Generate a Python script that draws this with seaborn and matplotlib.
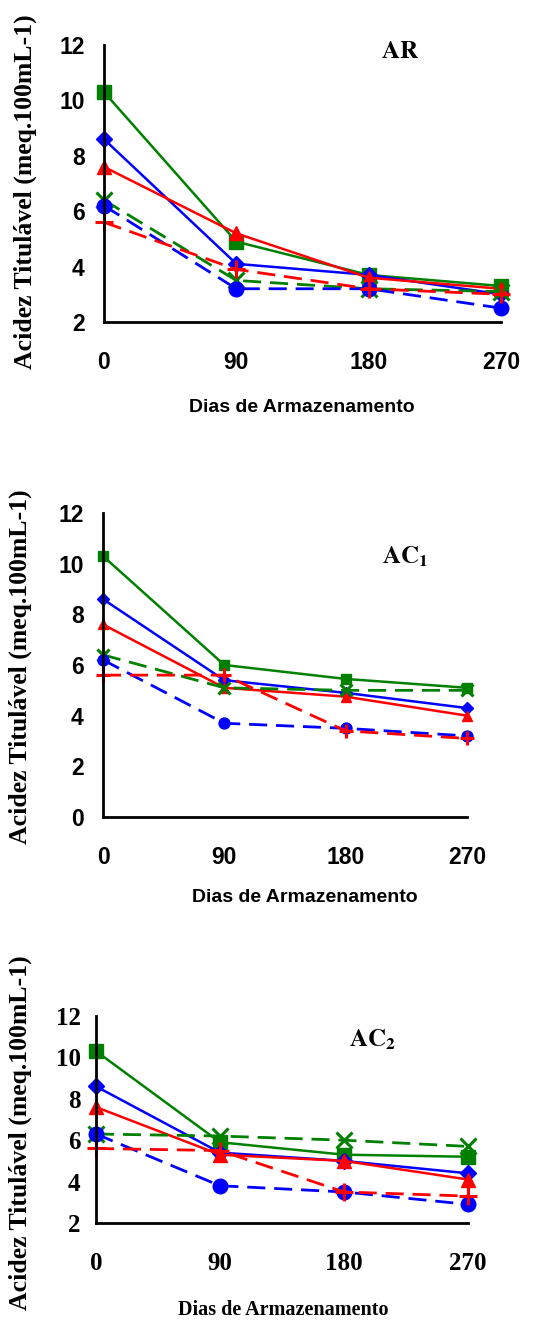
import matplotlib
matplotlib.use("Agg")
import matplotlib.pyplot as plt
import seaborn as sns
import pandas as pd

dias = [0, 90, 180, 270]

# AR
ar_quadrado = [10.3, 4.9, 3.7, 3.3]
ar_losango = [8.6, 4.1, 3.7, 3.0]
ar_triangulo = [7.6, 5.2, 3.6, 3.2]
ar_xis = [6.4, 3.5, 3.2, 3.1]
ar_circulo = [6.2, 3.2, 3.2, 2.5]
ar_cruz = [5.6, 3.9, 3.2, 3.0]

# AC1
ac1_quadrado = [10.3, 6.0, 5.45, 5.1]
ac1_losango = [8.6, 5.4, 4.9, 4.3]
ac1_triangulo = [7.6, 5.1, 4.75, 4.0]
ac1_xis = [6.4, 5.1, 5.0, 5.0]
ac1_circulo = [6.2, 3.7, 3.5, 3.2]
ac1_cruz = [5.6, 5.6, 3.4, 3.1]

# AC2
ac2_quadrado = [10.3, 5.9, 5.3, 5.2]
ac2_losango = [8.6, 5.4, 5.0, 4.4]
ac2_triangulo = [7.6, 5.3, 5.0, 4.1]
ac2_xis = [6.3, 6.2, 6.0, 5.7]
ac2_circulo = [6.3, 3.8, 3.5, 2.9]
ac2_cruz = [5.6, 5.5, 3.5, 3.3]

paineis = [
    ("AR", [ar_quadrado, ar_losango, ar_triangulo, ar_xis, ar_circulo, ar_cruz]),
    ("AC1", [ac1_quadrado, ac1_losango, ac1_triangulo, ac1_xis, ac1_circulo, ac1_cruz]),
    ("AC2", [ac2_quadrado, ac2_losango, ac2_triangulo, ac2_xis, ac2_circulo, ac2_cruz]),
]

VERDE = "#008000"
AZUL = "#0000FF"
VERMELHO = "#FF0000"
TRACO = (0, (6.5, 3.2))

# color, marker, linestyle, markersize
estilos = [
    (VERDE, "s", "-", 10),
    (AZUL, "D", "-", 8),
    (VERMELHO, "^", "-", 10),
    (VERDE, "x", TRACO, 11),
    (AZUL, "o", TRACO, 10.5),
    (VERMELHO, "+", TRACO, 13),
]

sns.set_theme(style="white")
plt.rcParams["mathtext.fontset"] = "stix"
for k in ("text.color", "axes.labelcolor", "xtick.color", "ytick.color"):
    plt.rcParams[k] = "black"

fig = plt.figure(figsize=(5.6, 13.22), dpi=100)

# axes positions in figure fractions
posicoes = [
    [104 / 560, 1 - 322 / 1322, 397 / 560, 277 / 1322],
    [103 / 560, 1 - 817 / 1322, 364 / 560, 304 / 1322],
    [96 / 560, 1 - 1223 / 1322, 372 / 560, 207 / 1322],
]
ylims = [(2, 12), (0, 12), (2, 12)]
tick_fonts = ["Liberation Sans", "Liberation Sans", "Liberation Serif"]
tick_sizes = [16.5, 16.5, 18]
xlabel_fonts = ["Liberation Sans", "Liberation Sans", "Liberation Serif"]
xlabel_sizes = [14, 14, 14.5]
marker_scale = [1.0, 0.75, 1.0]
titulos = [r"$\mathbf{AR}$", r"$\mathbf{AC_1}$", r"$\mathbf{AC_2}$"]
titulo_xy = [(400 / 560, 1 - 51 / 1322), (405 / 560, 1 - 557 / 1322), (372 / 560, 1 - 1040 / 1322)]
ylabel_xy = [(25 / 560, 1 - 192 / 1322), (20 / 560, 1 - 667 / 1322), (20 / 560, 1 - 1133 / 1322)]
xlabel_xy = [(302 / 560, 1 - 407 / 1322), (305 / 560, 1 - 897 / 1322), (283 / 560, 1 - 1310 / 1322)]

for i, (nome, series) in enumerate(paineis):
    ax = fig.add_axes(posicoes[i])
    for valores, (cor, marcador, ls, ms) in zip(series, estilos):
        df = pd.DataFrame({"Dias": dias, "Acidez": valores})
        filled = marcador not in ("x", "+")
        sns.lineplot(data=df, x="Dias", y="Acidez", ax=ax, color=cor,
                     marker=marcador, linestyle=ls,
                     linewidth=1.8 if ls == "-" else 2.0,
                     markersize=ms * marker_scale[i],
                     markeredgecolor=cor, markerfacecolor=cor if filled else "none",
                     markeredgewidth=1.0 if filled else 2.2,
                     clip_on=False)
    ax.set_xlim(0, 270)
    ax.set_ylim(*ylims[i])
    ax.set_xticks(dias)
    ax.set_yticks(range(ylims[i][0], 13, 2))
    ax.set_xlabel("")
    ax.set_ylabel("")
    for s in ("top", "right"):
        ax.spines[s].set_visible(False)
    for s in ("left", "bottom"):
        ax.spines[s].set_linewidth(2)
        ax.spines[s].set_color("black")
    ax.tick_params(axis="both", direction="inout", length=12, width=2, colors="black",
                   labelsize=tick_sizes[i])
    ax.tick_params(axis="x", pad=15)
    ax.tick_params(axis="y", pad=8 if i < 2 else 5)
    for lab in ax.get_xticklabels() + ax.get_yticklabels():
        lab.set_fontfamily(tick_fonts[i])
        lab.set_fontweight("bold")
    ax.patch.set_alpha(0)

    fig.text(*titulo_xy[i], titulos[i], fontsize=18, ha="center", va="center")
    fig.text(*ylabel_xy[i], "Acidez Titulável (meq.100mL-1)", rotation=90,
             fontsize=18.5, fontweight="bold", family="Liberation Serif",
             ha="center", va="center")
    fig.text(*xlabel_xy[i], "Dias de Armazenamento", fontsize=xlabel_sizes[i],
             fontweight="bold", family=xlabel_fonts[i], ha="center", va="center")

fig.savefig("out.png", dpi=100)
